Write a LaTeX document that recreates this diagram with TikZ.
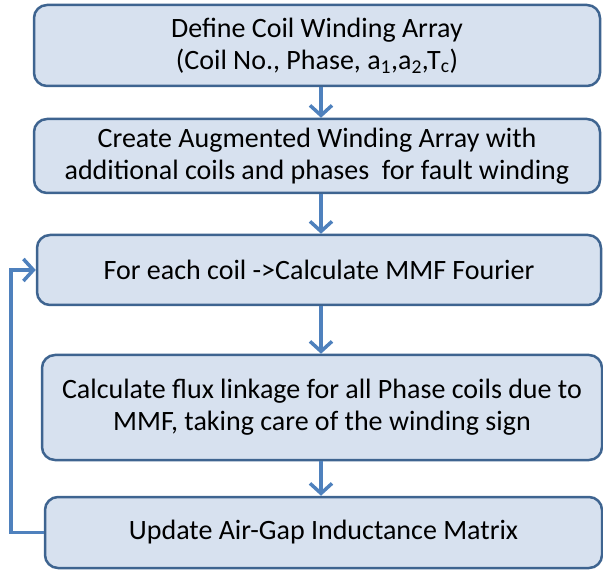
\documentclass[tikz,border=0pt]{standalone}
\usepackage{fontspec}
\setmainfont{Carlito}
\usetikzlibrary{arrows.meta}
\definecolor{boxfill}{HTML}{D7E1EF}
\definecolor{boxdraw}{HTML}{3E6490}
\definecolor{arrowblue}{HTML}{4F81BD}
\tikzset{
  flowbox/.style={draw=boxdraw, fill=boxfill, line width=2.5pt, rounded corners=13pt,
    align=center, inner sep=0pt, font=\fontsize{28}{32}\selectfont},
  flowarrow/.style={draw=arrowblue, line width=3.5pt,
    -{Straight Barb[length=10pt,width=22pt,line width=3.5pt]}}
}
\begin{document}
\begin{tikzpicture}[x=1pt,y=-1pt]
\path[use as bounding box] (0,0) rectangle (603,572);
\node[flowbox, minimum width=566pt, minimum height=81pt] (b1) at (317,45.5)
  {Define Coil Winding Array\\(Coil No., Phase, a\textsubscript{1},a\textsubscript{2},T\textsubscript{c})};
\node[flowbox, minimum width=566pt, minimum height=74pt] (b2) at (317,156)
  {Create Augmented Winding Array with\\additional coils and phases\ \ for fault winding};
\node[flowbox, minimum width=564pt, minimum height=70pt] (b3) at (319,270)
  {For each coil -{}>Calculate MMF Fourier};
\node[flowbox, minimum width=560pt, minimum height=105pt] (b4) at (322,407.5)
  {Calculate flux linkage for all Phase coils due to\\MMF, taking care of the winding sign};
\node[flowbox, minimum width=557pt, minimum height=71pt] (b5) at (323.5,532.5)
  {Update Air-Gap Inductance Matrix};
\coordinate (c1) at (321,0);
\draw[flowarrow] (c1 |- b1.south) -- (c1 |- b2.north);
\draw[flowarrow] (c1 |- b2.south) -- (c1 |- b3.north);
\draw[flowarrow] (c1 |- b3.south) -- (c1 |- b4.north);
\draw[flowarrow] (c1 |- b4.south) -- (c1 |- b5.north);
\coordinate (lp) at (11,0);
\draw[flowarrow] (b5.west) -- (lp |- b5.west) -- (lp |- b3.west) -- (b3.west);
\end{tikzpicture}
\end{document}
